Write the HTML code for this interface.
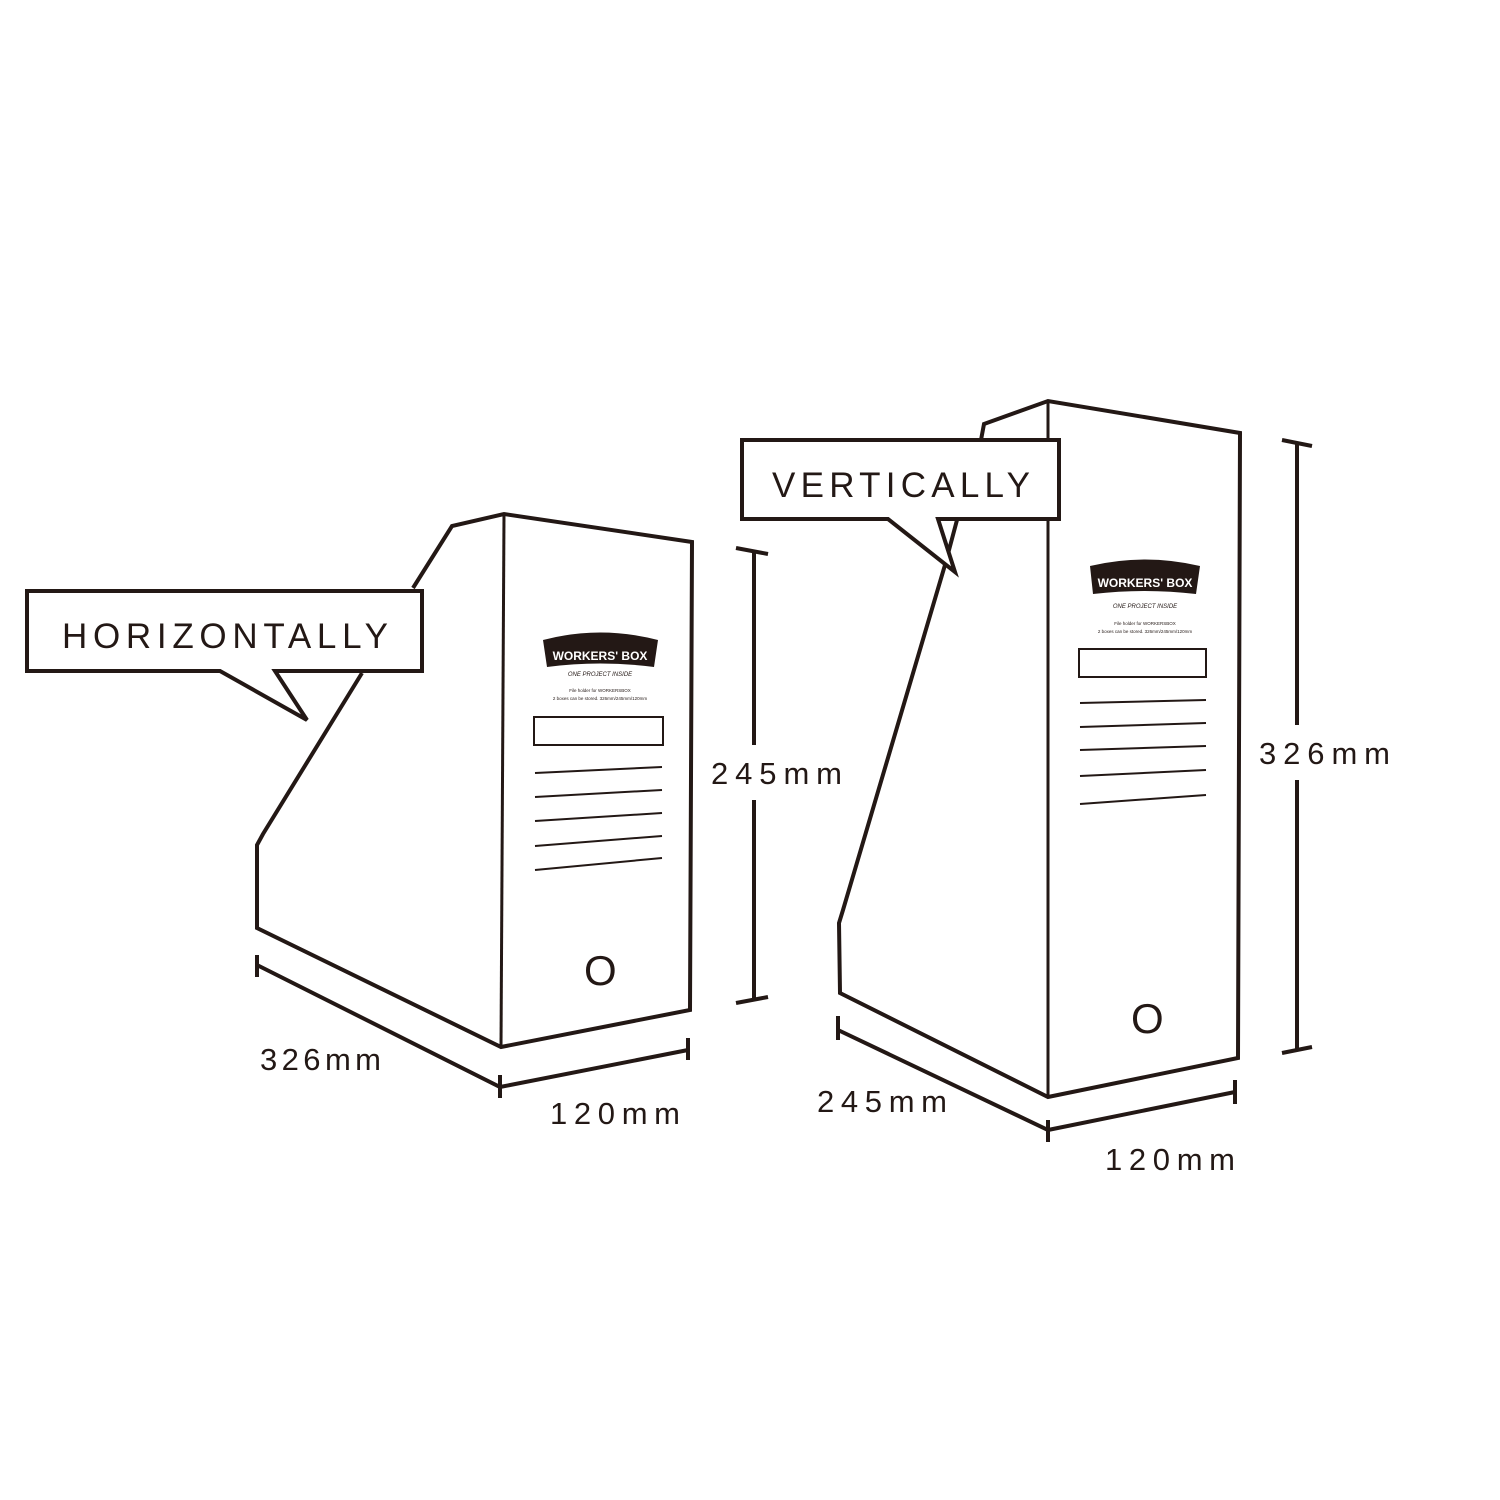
<!DOCTYPE html>
<html><head><meta charset="utf-8"><style>
html,body{margin:0;padding:0;background:#fff;width:1500px;height:1500px;overflow:hidden}
svg{display:block}
text{font-family:"Liberation Sans",sans-serif;fill:#231815}
</style></head><body>
<svg width="1500" height="1500" viewBox="0 0 1500 1500" xmlns="http://www.w3.org/2000/svg">
<g fill="none" stroke="#231815" stroke-width="4" stroke-linejoin="miter">
<polyline points="413,588 452,526 504,514 692,542 690,1010 501,1047 257,928 257,845 263,834 362,673"/>
<line x1="504" y1="514" x2="501" y2="1047" stroke-width="3"/>
<path d="M27,591 H422 V671 H275 L307,720 L220,671 H27 Z" fill="#fff"/>
<polyline points="981,440 984,424 1048,401 1240,433 1238,1058 1048,1097 840,993 839,923 843,910 945,565 957,520"/>
<line x1="1048" y1="401" x2="1048" y2="1097" stroke-width="3"/>
<path d="M742,440 H1059 V519 H938 L955,572 L888,519 H742 Z" fill="#fff"/>
<polyline points="257,965 500,1087 688,1050"/>
<line x1="257" y1="955" x2="257" y2="977"/>
<line x1="500" y1="1075" x2="500" y2="1098"/>
<line x1="688" y1="1038" x2="688" y2="1060"/>
<line x1="754" y1="551" x2="754" y2="1000"/>
<line x1="736" y1="548" x2="768" y2="554"/>
<line x1="736" y1="1003" x2="768" y2="997"/>
<polyline points="838,1030 1048,1130 1235,1092"/>
<line x1="838" y1="1016" x2="838" y2="1040"/>
<line x1="1048" y1="1120" x2="1048" y2="1142"/>
<line x1="1235" y1="1080" x2="1235" y2="1104"/>
<line x1="1297" y1="443" x2="1297" y2="1050"/>
<line x1="1282" y1="440" x2="1312" y2="446"/>
<line x1="1282" y1="1053" x2="1312" y2="1047"/>
</g>
<rect x="705" y="745" width="145" height="55" fill="#fff"/>
<rect x="1255" y="725" width="145" height="55" fill="#fff"/>
<g font-size="35">
<text x="62" y="648" textLength="326" lengthAdjust="spacing">HORIZONTALLY</text>
<text x="772" y="497" textLength="258" lengthAdjust="spacing">VERTICALLY</text>
</g>
<g font-size="31">
<text x="711" y="784" textLength="131" lengthAdjust="spacing">245mm</text>
<text x="1259" y="764" textLength="131" lengthAdjust="spacing">326mm</text>
<text x="260" y="1070" textLength="121" lengthAdjust="spacing">326mm</text>
<text x="550" y="1124" textLength="130" lengthAdjust="spacing">120mm</text>
<text x="817" y="1112" textLength="130" lengthAdjust="spacing">245mm</text>
<text x="1105" y="1170" textLength="130" lengthAdjust="spacing">120mm</text>
</g>
<g font-size="42"><text x="584" y="985">O</text><text x="1131" y="1033">O</text></g>
<g>
<path d="M543,640 Q600,625 658,640 L654,667 Q600,660 547,667 Z" fill="#231815"/>
<text x="600" y="660" font-size="12" font-weight="bold" text-anchor="middle" style="fill:#fff">WORKERS' BOX</text>
<text x="600" y="676" font-size="6" text-anchor="middle" font-style="italic">ONE PROJECT INSIDE</text>
<text x="600" y="692" font-size="4.5" text-anchor="middle">File holder for WORKERSBOX</text>
<text x="600" y="700" font-size="4.5" text-anchor="middle">2 boxes can be stored. 326mm/245mm/120mm</text>
<g fill="none" stroke="#231815" stroke-width="2">
<rect x="534" y="717" width="129" height="28"/>
<line x1="535" y1="773" x2="662" y2="767"/>
<line x1="535" y1="797" x2="662" y2="790"/>
<line x1="535" y1="821" x2="662" y2="813"/>
<line x1="535" y1="846" x2="662" y2="836"/>
<line x1="535" y1="870" x2="662" y2="858"/>
</g>
</g>
<g>
<path d="M1090,566 Q1145,553 1200,566 L1196,594 Q1145,588 1093,594 Z" fill="#231815"/>
<text x="1145" y="587" font-size="12" font-weight="bold" text-anchor="middle" style="fill:#fff">WORKERS' BOX</text>
<text x="1145" y="608" font-size="6" text-anchor="middle" font-style="italic">ONE PROJECT INSIDE</text>
<text x="1145" y="625" font-size="4.5" text-anchor="middle">File holder for WORKERSBOX</text>
<text x="1145" y="633" font-size="4.5" text-anchor="middle">2 boxes can be stored. 326mm/245mm/120mm</text>
<g fill="none" stroke="#231815" stroke-width="2">
<rect x="1079" y="649" width="127" height="28"/>
<line x1="1080" y1="703" x2="1206" y2="700"/>
<line x1="1080" y1="727" x2="1206" y2="723"/>
<line x1="1080" y1="750" x2="1206" y2="746"/>
<line x1="1080" y1="776" x2="1206" y2="770"/>
<line x1="1080" y1="804" x2="1206" y2="795"/>
</g>
</g>
</svg>
</body></html>
